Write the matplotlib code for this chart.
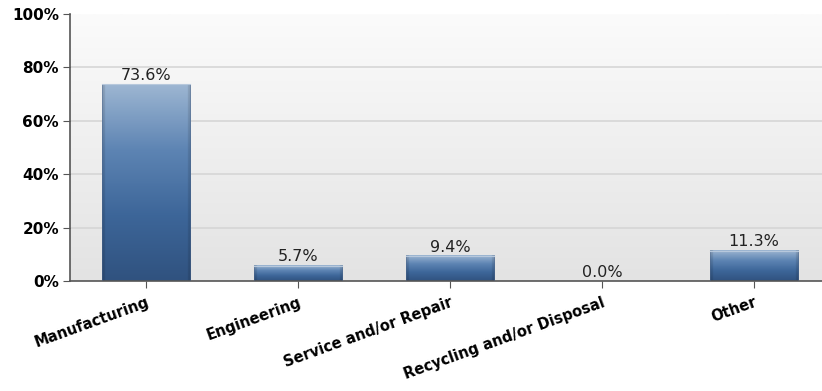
import numpy as np
import matplotlib.pyplot as plt
from matplotlib.colors import LinearSegmentedColormap

categories = ['Manufacturing', 'Engineering', 'Service and/or Repair',
              'Recycling and/or Disposal', 'Other']
shares = [73.6, 5.7, 9.4, 0.0, 11.3]
yticks = [0, 20, 40, 60, 80, 100]

fig = plt.figure(figsize=(8.22, 3.91), dpi=100)
ax = fig.add_axes([70 / 822, 1 - 281 / 391, 760 / 822, 267 / 391])

x = np.arange(len(categories))
width = 0.58
ax.set_xlim(-0.5, len(categories) - 0.5)
ax.set_ylim(0, 100)

# plot area background: white at top fading to light grey
bg = LinearSegmentedColormap.from_list('bg', ['#e3e3e3', '#fbfbfb'])
ax.imshow(np.linspace(0, 1, 256).reshape(-1, 1), cmap=bg, origin='lower',
          extent=[-0.5, len(categories) - 0.5, 0, 100], aspect='auto', zorder=0)

for y in yticks[1:-1]:
    ax.axhline(y, color='#d6d6d6', lw=1.2, zorder=1)

# bars with a vertical blue gradient and slightly darker side edges
barcmap = LinearSegmentedColormap.from_list(
    'bar', ['#30527f', '#3d6699', '#5d84b3', '#9db6d2'])
ramp = np.linspace(0, 1, 128).reshape(-1, 1)
side = np.ones((1, 60))
side[0, :2] = 0.88
side[0, -2:] = 0.88
for xi, v in zip(x, shares):
    if v <= 0:
        continue
    img = barcmap(ramp)[:, :, :3] * side[..., None]
    ax.imshow(img, origin='lower', extent=[xi - width / 2, xi + width / 2, 0, v],
              aspect='auto', zorder=2, interpolation='bilinear')
    ax.plot([xi - width / 2, xi - width / 2, xi + width / 2, xi + width / 2],
            [0, v, v, 0], color='#50678a', lw=0.6, alpha=0.5, zorder=3)
    ax.plot([xi - width / 2, xi + width / 2], [v, v], color='#b7c8dc', lw=0.8, zorder=3)

for xi, v in zip(x, shares):
    ax.text(xi, v + 0.5, f'{v:.1f}%', ha='center', va='bottom',
            fontsize=11.5, color='#222222', zorder=4)

ax.set_xlim(-0.5, len(categories) - 0.5)
ax.set_ylim(0, 100)
ax.set_yticks(yticks)
ax.set_yticklabels([f'{t}%' for t in yticks], fontweight='bold', fontsize=11)
ax.set_xticks(x)
ax.set_xticklabels(categories, rotation=20, ha='right', rotation_mode='anchor',
                   fontweight='bold', fontsize=10.5)

for s in ['top', 'right']:
    ax.spines[s].set_visible(False)
for s in ['left', 'bottom']:
    ax.spines[s].set_color('#555555')
    ax.spines[s].set_linewidth(1.2)
ax.tick_params(axis='y', length=5, color='#555555', pad=3)
ax.tick_params(axis='x', length=5, color='#555555', pad=5)

fig.savefig('out.png', dpi=100)
